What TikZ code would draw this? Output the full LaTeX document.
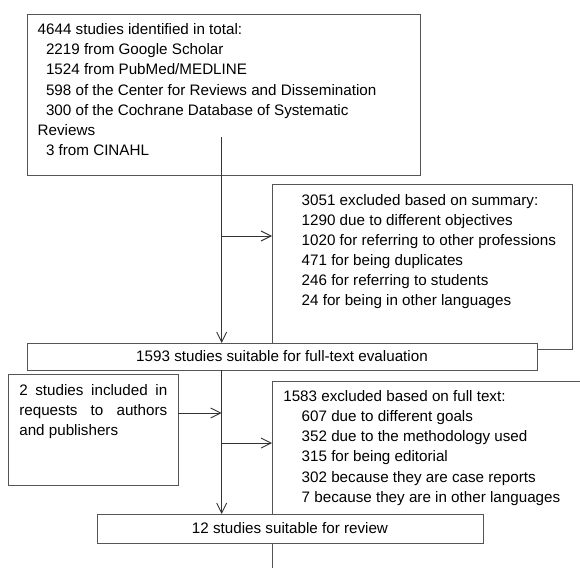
\documentclass[tikz,border=0pt]{standalone}
\usepackage{fontspec}
\setmainfont{Liberation Sans}
\usetikzlibrary{arrows.meta}
\definecolor{boxline}{HTML}{555555}
\definecolor{arrline}{HTML}{333333}
\begin{document}
\begin{tikzpicture}[x=1pt,y=-1pt,
  box/.style={draw=boxline, line width=0.9pt, fill=white, rectangle, inner sep=0pt, outer sep=0pt, anchor=north west},
  txt/.style={inner sep=0pt, outer sep=0pt, anchor=base west, align=left, font=\fontsize{15.2pt}{20.1pt}\selectfont},
  ctxt/.style={font=\fontsize{15.2pt}{20.1pt}\selectfont},
  arr/.style={draw=arrline, line width=0.9pt, -{Straight Barb[length=10pt,width=10pt,line width=0.9pt]}}
]
\useasboundingbox (0,0) rectangle (580,567);
\clip (0,0) rectangle (580,567);
% boxes
\node[box, minimum width=393pt, minimum height=161pt] (b1) at (27,14) {};
\node[box, minimum width=300pt, minimum height=165pt] (b2) at (272,184) {};
\node[box, minimum width=510pt, minimum height=27pt, ctxt] (b3) at (27,343) {1593 studies suitable for full-text evaluation};
\node[box, minimum width=170pt, minimum height=111pt] (b4) at (8,374) {};
\node[box, minimum width=330pt, minimum height=220pt] (b5) at (272,381) {};
\node[box, minimum width=386pt, minimum height=29pt, ctxt] (b6) at (97,514) {12 studies suitable for review};
% texts (anchored at the baseline of their last line)
\node[txt] (t1) at (37.7,155.4) {4644 studies identified in total:\\
\hspace*{8.3pt}2219 from Google Scholar\\
\hspace*{8.3pt}1524 from PubMed/MEDLINE\\
\hspace*{8.3pt}598 of the Center for Reviews and Dissemination\\
\hspace*{8.3pt}300 of the Cochrane Database of Systematic\\
Reviews\\
\hspace*{8.3pt}3 from CINAHL};
\node[txt] (t2) at (301.7,305.8) {3051 excluded based on summary:\\
1290 due to different objectives\\
1020 for referring to other professions\\
471 for being duplicates\\
246 for referring to students\\
24 for being in other languages};
\node[txt] (t4) at (19.3,435.2) {\makebox[148pt][s]{2 studies included in}\\
\makebox[148pt][s]{requests to authors}\\
and publishers};
\node[txt] (t5) at (283.3,502.1) {1583 excluded based on full text:\\
\hspace*{18.4pt}607 due to different goals\\
\hspace*{18.4pt}352 due to the methodology used\\
\hspace*{18.4pt}315 for being editorial\\
\hspace*{18.4pt}302 because they are case reports\\
\hspace*{18.4pt}7 because they are in other languages};
% connectors
\coordinate (c0) at (221.7,137);
\coordinate (j1) at (221.7,236);
\coordinate (j2) at (221.7,413);
\coordinate (j3) at (221.7,443);
\draw[arr] (c0) -- (c0 |- b3.north);
\draw[arr] (j1) -- (j1 -| b2.west);
\draw[arr] (b3.south -| c0) -- (c0 |- b6.north);
\draw[arr] (b4.east |- j2) -- (j2);
\draw[arr] (j3) -- (j3 -| b5.west);
\end{tikzpicture}
\end{document}
